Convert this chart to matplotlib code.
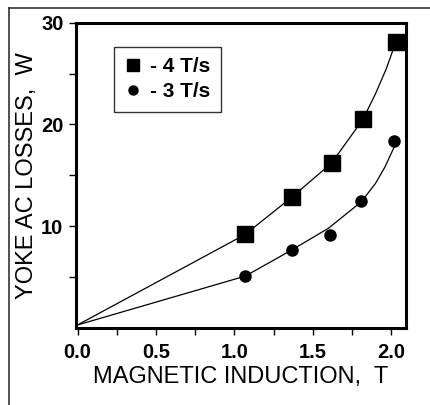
import matplotlib
matplotlib.use("Agg")
import matplotlib.pyplot as plt
from matplotlib.lines import Line2D

plt.rcParams['font.family'] = ['Liberation Sans', 'DejaVu Sans']

# Measured points
x_4 = [1.07, 1.37, 1.62, 1.82, 2.03]
y_4 = [9.2, 12.9, 16.2, 20.5, 28.1]
x_3 = [1.07, 1.37, 1.61, 1.81, 2.02]
y_3 = [5.1, 7.7, 9.1, 12.45, 18.4]

# Fitted curves
cx_4 = [0.0, 1.07, 1.37, 1.62, 1.82, 1.90, 1.97, 2.03]
cy_4 = [0.3, 9.2, 12.9, 16.2, 20.5, 23.0, 25.5, 28.1]
cx_3 = [0.0, 1.07, 1.37, 1.60, 1.81, 1.90, 1.96, 2.02]
cy_3 = [0.3, 5.1, 7.7, 9.8, 12.4, 14.2, 15.8, 17.8]

labels = ['- 4 T/s', '- 3 T/s']
xticks = [0.0, 0.5, 1.0, 1.5, 2.0]
xticklabels = ['0.0', '0.5', '1.0', '1.5', '2.0']
yticks = [10, 20, 30]
yticklabels = ['10', '20', '30']

fig = plt.figure(figsize=(4.31, 4.05), dpi=100)
ax = fig.add_axes([76/431, 1-328/405, 330/431, (328-22.7)/405])

ax.plot(cx_4, cy_4, color='black', lw=0.9)
ax.plot(cx_3, cy_3, color='black', lw=0.9)
ax.plot(x_4, y_4, ls='none', marker='s', ms=11, color='black')
ax.plot(x_3, y_3, ls='none', marker='o', ms=8, color='black')

ax.set_xlim(-0.01, 2.095)
ax.set_ylim(0, 30)
ax.set_xticks(xticks)
ax.set_xticklabels(xticklabels, fontsize=14.5, fontweight='bold')
ax.set_xticks([0.25, 0.75, 1.25, 1.75], minor=True)
ax.set_yticks(yticks)
ax.set_yticklabels(yticklabels, fontsize=14.5, fontweight='bold')
ax.set_yticks([5, 15, 25], minor=True)
ax.tick_params(which='both', direction='out', length=5, width=1)
ax.tick_params(axis='x', which='both', pad=6)
ax.tick_params(axis='y', which='both', pad=4)
for s in ax.spines.values():
    s.set_linewidth(2.2)

ax.set_xlabel('MAGNETIC INDUCTION,  T', fontsize=17, labelpad=3)
ax.set_ylabel('YOKE AC LOSSES,  W', fontsize=17, labelpad=2)

handles = [Line2D([], [], ls='none', marker='s', ms=8, color='black'),
           Line2D([], [], ls='none', marker='o', ms=6.5, color='black')]
leg = ax.legend(handles, labels, loc='upper left', bbox_to_anchor=(0.115, 0.922),
                prop={'size': 15, 'weight': 'bold'}, frameon=True, fancybox=False,
                handlelength=0.8, handletextpad=0.45, borderpad=0.5, labelspacing=0.3,
                borderaxespad=0)
leg.get_frame().set_edgecolor('black')
leg.get_frame().set_linewidth(1.0)

# outer frame (left and top edges visible)
fig.add_artist(Line2D([9/431, 9/431], [0, 1-8/405], transform=fig.transFigure, color='#333333', lw=1.2))
fig.add_artist(Line2D([9/431, 1], [1-8/405, 1-8/405], transform=fig.transFigure, color='#333333', lw=1.2))

fig.savefig('out.png', dpi=100)
